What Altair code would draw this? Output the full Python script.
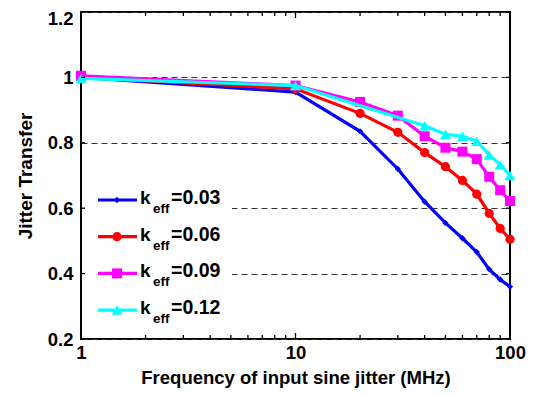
import altair as alt
import pandas as pd

# ---------------- data ----------------
freq = [1, 10, 20, 30, 40, 50, 60, 70, 80, 90, 100]
k003 = [1.0, 0.955, 0.835, 0.72, 0.62, 0.555, 0.508, 0.466, 0.413, 0.382, 0.36]
k006 = [1.0, 0.965, 0.89, 0.832, 0.77, 0.727, 0.685, 0.643, 0.584, 0.538, 0.505]
k009 = [1.005, 0.975, 0.925, 0.883, 0.82, 0.785, 0.773, 0.75, 0.696, 0.655, 0.622]
freq012 = [1, 10, 40, 50, 60, 70, 80, 90, 100]
k012 = [0.997, 0.975, 0.852, 0.826, 0.82, 0.805, 0.763, 0.733, 0.70]

series_labels = ["=0.03", "=0.06", "=0.09", "=0.12"]
series_x = [freq, freq, freq, freq012]
series_y = [k003, k006, k009, k012]
colors = ["#0000ff", "#ff0000", "#ff00ff", "#00ffff"]
shapes = ["diamond", "circle", "square", "triangle-up"]
sizes = [40, 85, 100, 120]

x_major = [1, 10, 100]
x_minor = [2, 3, 4, 5, 6, 7, 8, 9, 20, 30, 40, 50, 60, 70, 80, 90]
y_ticks = [0.2, 0.4, 0.6, 0.8, 1.0, 1.2]

# ---------------- layout ----------------
W, H = 429, 327
FONT = "Liberation Sans"

xscale = alt.Scale(type="log", domain=[1, 100], nice=False)
yscale = alt.Scale(domain=[0.2, 1.2], nice=False, zero=False)

X = alt.X("f:Q", scale=xscale,
          axis=alt.Axis(values=x_major, format="~g", grid=False, ticks=False,
                        domain=False, labelFlush=False, labelPadding=4,
                        labelFont=FONT, labelFontSize=18.5, labelFontWeight="bold",
                        labelColor="black",
                        title="Frequency of input sine jitter (MHz)",
                        titleFont=FONT, titleFontSize=18.5, titleFontWeight="bold",
                        titleColor="black", titlePadding=7))
Y = alt.Y("v:Q", scale=yscale,
          axis=alt.Axis(values=y_ticks, format="~g", grid=True, gridDash=[6, 4],
                        gridColor="#333333", gridWidth=1, ticks=False, domain=False,
                        labelFlush=False, labelPadding=8,
                        labelOffset={"condition": {"test": "datum.value >= 1.19", "value": 6},
                                     "value": 0},
                        labelFont=FONT, labelFontSize=18.5, labelFontWeight="bold",
                        labelColor="black",
                        title="Jitter Transfer", titleFont=FONT, titleFontSize=19,
                        titleFontWeight="bold", titleColor="black", titlePadding=12))

layers = []

# white legend background (hides grid lines)
one = pd.DataFrame({"a": [0]})
layers.append(alt.Chart(one).mark_rect(color="white").encode(
    x=alt.value(1), x2=alt.value(151), y=alt.value(165), y2=alt.value(320)))

# base layer with axes (invisible)
base_df = pd.DataFrame({"f": freq, "v": k003})
layers.append(alt.Chart(base_df).mark_point(opacity=0).encode(x=X, y=Y))

# data series
for xs, ys, c, sh, sz in zip(series_x, series_y, colors, shapes, sizes):
    df = pd.DataFrame({"f": xs, "v": ys})
    layers.append(alt.Chart(df).mark_line(color=c, strokeWidth=3.2).encode(
        x="f:Q", y="v:Q"))
    layers.append(alt.Chart(df).mark_point(color=c, shape=sh, size=sz, filled=True,
                                           opacity=1).encode(x="f:Q", y="v:Q"))

# inward ticks
xmaj = pd.DataFrame({"f": x_major})
xmin = pd.DataFrame({"f": x_minor})
yt = pd.DataFrame({"v": y_ticks})
tick = dict(color="black", strokeWidth=1.3)
layers.append(alt.Chart(xmaj).mark_rule(**tick).encode(x="f:Q", y=alt.value(H), y2=alt.value(H - 6)))
layers.append(alt.Chart(xmaj).mark_rule(**tick).encode(x="f:Q", y=alt.value(0), y2=alt.value(6)))
layers.append(alt.Chart(xmin).mark_rule(**tick).encode(x="f:Q", y=alt.value(H), y2=alt.value(H - 4)))
layers.append(alt.Chart(xmin).mark_rule(**tick).encode(x="f:Q", y=alt.value(0), y2=alt.value(4)))
layers.append(alt.Chart(yt).mark_rule(**tick).encode(y="v:Q", x=alt.value(0), x2=alt.value(4)))
layers.append(alt.Chart(yt).mark_rule(**tick).encode(y="v:Q", x=alt.value(W), x2=alt.value(W - 4)))

# manual legend with subscripts
for i, (lab, c, sh, sz) in enumerate(zip(series_labels, colors, shapes, sizes)):
    yl = 188 + 36.7 * i
    layers.append(alt.Chart(one).mark_rule(color=c, strokeWidth=3.2).encode(
        x=alt.value(17), x2=alt.value(56), y=alt.value(yl)))
    layers.append(alt.Chart(one).mark_point(color=c, shape=sh, size=sz, filled=True,
                                            opacity=1).encode(
        x=alt.value(36), y=alt.value(yl)))
    layers.append(alt.Chart(one).mark_text(text="k", align="left", baseline="alphabetic",
                                           font=FONT, fontSize=19, fontWeight="bold",
                                           color="black").encode(
        x=alt.value(59), y=alt.value(yl + 4)))
    layers.append(alt.Chart(one).mark_text(text="eff", align="left", baseline="alphabetic",
                                           font=FONT, fontSize=13.5, fontWeight="bold",
                                           color="black").encode(
        x=alt.value(72), y=alt.value(yl + 13)))
    layers.append(alt.Chart(one).mark_text(text=lab, align="left", baseline="alphabetic",
                                           font=FONT, fontSize=19.5, fontWeight="bold",
                                           color="black").encode(
        x=alt.value(90), y=alt.value(yl + 4)))

chart = alt.layer(*layers).properties(
    width=W, height=H,
    autosize=alt.AutoSizeParams(type="none"),
    padding={"left": 73, "top": 4, "right": 19, "bottom": 50},
    background="white",
).configure_view(stroke="black", strokeWidth=2)

chart.save("out.html", embed_options={"renderer": "svg", "actions": False})
